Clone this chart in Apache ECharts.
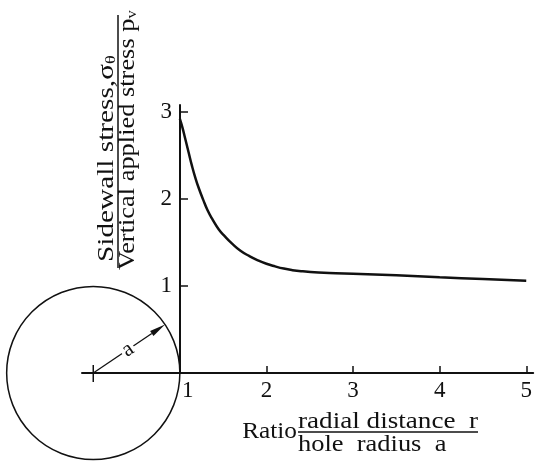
<!DOCTYPE html>
<html>
<head>
  <meta charset="UTF-8">
  <title>Sidewall stress around a hole</title>
  <script src="https://cdn.jsdelivr.net/npm/echarts@6.0.0/dist/echarts.min.js"></script>
  <style>
    html, body { margin: 0; padding: 0; background: #fff; }
    #main { width: 535px; height: 462px; }
  </style>
</head>
<body>
<div id="main"></div>

<script type="text/javascript">
  // r/a values
  var ratioR = [1.0, 1.03, 1.06, 1.1, 1.14, 1.18, 1.22, 1.27, 1.32, 1.38, 1.45, 1.52, 1.6, 1.7, 1.8, 1.9, 2.0, 2.1, 2.2, 2.3, 2.4, 2.6, 2.8, 3.0, 3.5, 4.0, 4.5, 5.0];
  // sidewall stress / vertical applied stress
  var stressRatio = [2.92, 2.82, 2.70, 2.54, 2.38, 2.24, 2.12, 1.99, 1.87, 1.76, 1.65, 1.57, 1.49, 1.405, 1.345, 1.295, 1.255, 1.225, 1.20, 1.182, 1.17, 1.155, 1.147, 1.14, 1.122, 1.10, 1.08, 1.06];
  var xTicks = [1, 2, 3, 4, 5];
  var yTicks = [1, 2, 3];
  // the hole: centre x, centre y, radius a
  var hole = [[0, 0, 1]];
  var radiusArrowDeg = 34;

  var ink = '#111';
  var serif = '"Liberation Serif", "DejaVu Serif", serif';

  var curveData = ratioR.map(function (r, i) {
    return [r, stressRatio[i]];
  });

  var myChart = echarts.init(document.getElementById('main'));

  // circle + radius arrow, drawn through the axes
  function renderHole(params, api) {
    var c = api.coord([api.value(0), api.value(1)]);
    var e = api.coord([api.value(0) + api.value(2), api.value(1)]);
    var rpx = e[0] - c[0];
    var ang = radiusArrowDeg * Math.PI / 180;
    var ux = Math.cos(ang), uy = -Math.sin(ang);
    var tip = [c[0] + ux * rpx, c[1] + uy * rpx];
    var headLen = 16, headW = 3;
    var base = [tip[0] - ux * headLen, tip[1] - uy * headLen];
    var mid = [c[0] + ux * rpx * 0.48, c[1] + uy * rpx * 0.48];
    return {
      type: 'group',
      children: [
        {
          type: 'circle',
          shape: { cx: c[0], cy: c[1], r: rpx },
          style: { fill: 'none', stroke: ink, lineWidth: 1.5 }
        },
        {
          type: 'line',
          shape: { x1: c[0], y1: c[1] - 8, x2: c[0], y2: c[1] + 9 },
          style: { stroke: ink, lineWidth: 1.5 }
        },
        {
          type: 'line',
          shape: { x1: c[0], y1: c[1], x2: base[0], y2: base[1] },
          style: { stroke: ink, lineWidth: 1.3 }
        },
        {
          type: 'polygon',
          shape: {
            points: [
              tip,
              [base[0] - uy * headW, base[1] + ux * headW],
              [base[0] + uy * headW, base[1] - ux * headW]
            ]
          },
          style: { fill: ink }
        },
        {
          type: 'text',
          x: mid[0],
          y: mid[1],
          rotation: ang,
          style: {
            text: 'a',
            x: 0,
            y: 0,
            align: 'center',
            verticalAlign: 'middle',
            font: '22px ' + serif,
            fill: ink,
            backgroundColor: '#fff',
            padding: [0, 2]
          }
        }
      ]
    };
  }

  var option = {
    backgroundColor: '#fff',
    animation: false,
    grid: {
      left: 82,
      right: 0,
      top: 105,
      bottom: 89
    },
    xAxis: {
      type: 'value',
      min: -0.13,
      max: 5.08,
      axisLine: { onZero: true, lineStyle: { color: ink, width: 2 } },
      axisTick: { customValues: xTicks, inside: true, length: 7, lineStyle: { color: ink, width: 1.5 } },
      axisLabel: {
        customValues: xTicks,
        margin: 6,
        color: ink,
        fontFamily: serif,
        fontSize: 23,
        formatter: function (v) {
          return v === 1 ? '{one|1}' : String(v);
        },
        rich: {
          one: { padding: [0, 0, 0, 16], fontFamily: serif, fontSize: 23, color: ink }
        }
      },
      splitLine: { show: false }
    },
    yAxis: {
      type: 'value',
      min: 0,
      max: 3.08,
      offset: -98,
      axisLine: { show: true, onZero: false, lineStyle: { color: ink, width: 2 } },
      axisTick: { show: true, customValues: yTicks, inside: true, length: 8, lineStyle: { color: ink, width: 1.5 } },
      axisLabel: {
        customValues: yTicks,
        margin: 8,
        color: ink,
        fontFamily: serif,
        fontSize: 23
      },
      splitLine: { show: false }
    },
    graphic: [
      // y title, written bottom to top
      {
        type: 'text',
        x: 107,
        y: 262,
        rotation: Math.PI / 2,
        scaleX: 1.22,
        style: {
          text: '{t|Sidewall stress,σ}{s|θ}',
          x: 0, y: 0,
          align: 'left',
          verticalAlign: 'middle',
          rich: {
            t: { fontFamily: serif, fontSize: 24, fill: ink },
            s: { fontFamily: serif, fontSize: 15, fill: ink, padding: [8, 0, 0, 0] }
          }
        }
      },
      {
        type: 'line',
        shape: { x1: 118, y1: 268, x2: 118, y2: 15 },
        style: { stroke: ink, lineWidth: 1.5 }
      },
      {
        type: 'text',
        x: 128,
        y: 270,
        rotation: Math.PI / 2,
        scaleX: 1.1,
        style: {
          text: '{t|Vertical applied stress p}{s|v}',
          x: 0, y: 0,
          align: 'left',
          verticalAlign: 'middle',
          rich: {
            t: { fontFamily: serif, fontSize: 24, fill: ink },
            s: { fontFamily: serif, fontSize: 15, fill: ink, padding: [8, 0, 0, 0] }
          }
        }
      },
      // x title
      {
        type: 'text',
        x: 297,
        y: 432,
        scaleX: 1.1,
        style: {
          text: 'Ratio',
          align: 'right',
          verticalAlign: 'middle',
          font: '23px ' + serif,
          fill: ink
        }
      },
      {
        type: 'text',
        x: 298,
        y: 422,
        scaleX: 1.18,
        style: {
          text: 'radial distance  r',
          align: 'left',
          verticalAlign: 'middle',
          font: '23px ' + serif,
          fill: ink
        }
      },
      {
        type: 'line',
        shape: { x1: 298, y1: 432, x2: 478, y2: 432 },
        style: { stroke: ink, lineWidth: 1.5 }
      },
      {
        type: 'text',
        x: 298,
        y: 445,
        scaleX: 1.15,
        style: {
          text: 'hole  radius  a',
          align: 'left',
          verticalAlign: 'middle',
          font: '23px ' + serif,
          fill: ink
        }
      }
    ],
    series: [
      {
        type: 'line',
        data: curveData,
        smooth: 0.5,
        showSymbol: false,
        lineStyle: { color: ink, width: 2.5 }
      },
      {
        type: 'custom',
        clip: false,
        renderItem: renderHole,
        data: hole,
        z: 3
      }
    ]
  };

  myChart.setOption(option);
</script>
</body>
</html>
